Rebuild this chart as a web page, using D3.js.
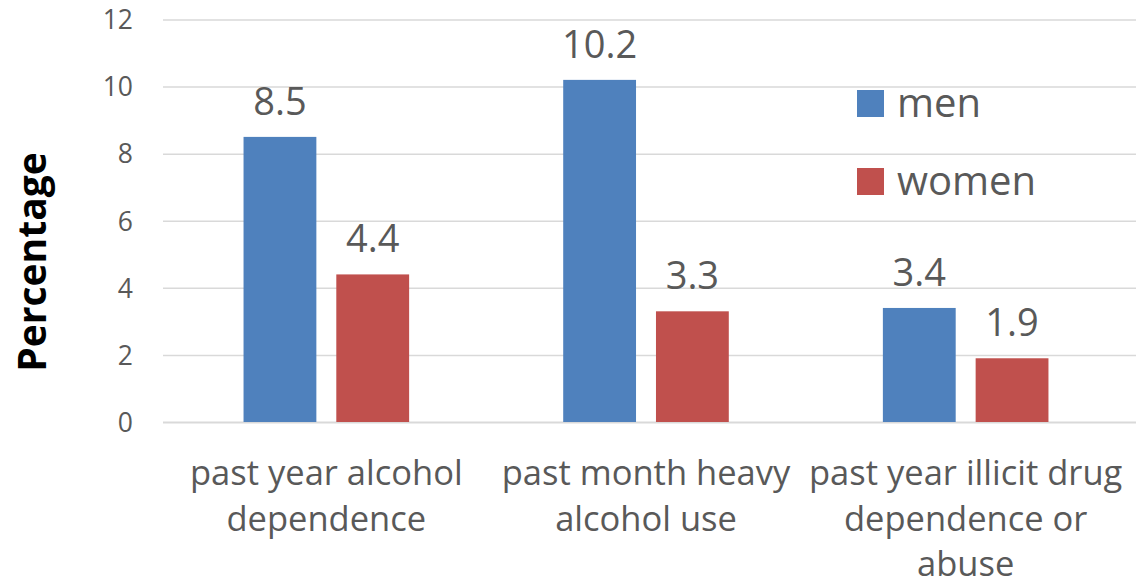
<!DOCTYPE html>
<html>
<head>
<meta charset="utf-8">
<script src="https://cdn.jsdelivr.net/npm/d3@7"></script>
<style>
  html, body { margin: 0; padding: 0; background: #fff; }
  svg { display: block; font-family: "Open Sans", "Noto Sans", sans-serif; }
</style>
</head>
<body>
<svg id="chart" width="1136" height="587"></svg>
<script>
// Prevalence of substance use by sex (%)
const categories = [
  ["past year alcohol", "dependence"],
  ["past month heavy", "alcohol use"],
  ["past year illicit drug", "dependence or", "abuse"]
];
const seriesNames = ["men", "women"];
const menValues = [8.5, 10.2, 3.4];
const womenValues = [4.4, 3.3, 1.9];
const yTicks = [0, 2, 4, 6, 8, 10, 12];

const colors = { men: "#4F81BD", women: "#C0504D" };
const textColor = "#595959";
const fontFamily = '"Open Sans", "Noto Sans", sans-serif';

const svg = d3.select("#chart");
const plot = { left: 163, right: 1136, top: 19.5, bottom: 422 };
const bandLeft = 166.5, bandRight = 1125.5;

const rows = categories.map((c, i) => ({
  key: i,
  lines: c,
  men: menValues[i],
  women: womenValues[i]
}));

const x0 = d3.scaleBand()
  .domain(rows.map(d => d.key))
  .range([bandLeft, bandRight])
  .paddingInner(0.482)
  .paddingOuter(0.241);

const x1 = d3.scaleBand()
  .domain(seriesNames)
  .range([0, x0.bandwidth()])
  .paddingInner(0.215)
  .paddingOuter(0);

const y = d3.scaleLinear()
  .domain([0, 12])
  .range([plot.bottom, plot.top]);

// Horizontal gridlines and y tick labels
const yAxis = d3.axisLeft(y)
  .tickValues(yTicks)
  .tickSize(-(plot.right - plot.left))
  .tickPadding(30)
  .tickFormat(d3.format("d"));

const gy = svg.append("g")
  .attr("transform", `translate(${plot.left},0)`)
  .call(yAxis)
  .attr("font-family", fontFamily);
gy.select(".domain").remove();
gy.selectAll(".tick line")
  .attr("stroke", "#D9D9D9")
  .attr("stroke-width", d => d === 0 ? 2 : 1.5);
gy.selectAll(".tick text")
  .attr("fill", textColor)
  .attr("font-size", 26.5)
  .attr("dy", "0.35em");

// Bars
const groups = svg.append("g")
  .selectAll("g")
  .data(rows)
  .join("g")
  .attr("transform", d => `translate(${x0(d.key)},0)`);

groups.selectAll("rect")
  .data(d => seriesNames.map(s => ({ s, v: d[s] })))
  .join("rect")
  .attr("x", d => x1(d.s))
  .attr("y", d => y(d.v))
  .attr("width", x1.bandwidth())
  .attr("height", d => y(0) - y(d.v))
  .attr("fill", d => colors[d.s]);

// Value labels
groups.selectAll("text.value")
  .data(d => seriesNames.map(s => ({ s, v: d[s] })))
  .join("text")
  .attr("class", "value")
  .attr("x", d => x1(d.s) + x1.bandwidth() / 2)
  .attr("y", d => y(d.v) - 22)
  .attr("text-anchor", "middle")
  .attr("fill", textColor)
  .attr("font-size", 38)
  .text(d => d3.format(".1f")(d.v));

// Category labels
svg.append("g")
  .selectAll("text")
  .data(rows)
  .join("text")
  .attr("x", d => x0(d.key) + x0.bandwidth() / 2)
  .attr("y", 485)
  .attr("text-anchor", "middle")
  .attr("fill", textColor)
  .attr("font-size", 34.5)
  .selectAll("tspan")
  .data(d => d.lines.map(l => ({ l, cx: x0(d.key) + x0.bandwidth() / 2 })))
  .join("tspan")
  .attr("x", d => d.cx)
  .attr("dy", (d, i) => i === 0 ? 0 : 45.5)
  .text(d => d.l);

// Y axis title
svg.append("text")
  .attr("transform", `translate(46,262) rotate(-90)`)
  .attr("text-anchor", "middle")
  .attr("font-size", 39)
  .attr("font-weight", "bold")
  .attr("fill", "#000")
  .text("Percentage");

// Legend
const legend = svg.append("g")
  .selectAll("g")
  .data(seriesNames)
  .join("g")
  .attr("transform", (d, i) => `translate(857,${90 + i * 78})`);

legend.append("rect")
  .attr("width", 27)
  .attr("height", 27)
  .attr("fill", d => colors[d]);

legend.append("text")
  .attr("x", 40)
  .attr("y", 27)
  .attr("fill", textColor)
  .attr("font-size", 40)
  .text(d => d);
</script>
</body>
</html>
